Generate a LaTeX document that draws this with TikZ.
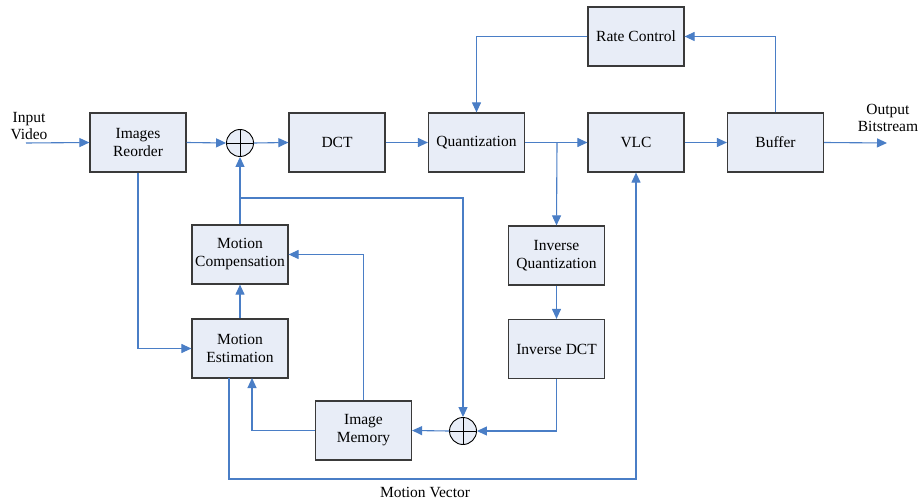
\documentclass[tikz,border=0pt]{standalone}
\usepackage{fontspec}
\setmainfont{Liberation Serif}
\usetikzlibrary{arrows.meta}
\definecolor{lnblue}{HTML}{4A7EC6}
\definecolor{boxfill}{HTML}{E8EDF7}
\definecolor{boxdraw}{HTML}{3A3A3A}
\begin{document}
\begin{tikzpicture}[x=1pt,y=-1pt,
  blk/.style={draw=boxdraw,line width=1.2pt,fill=boxfill,minimum width=96pt,minimum height=59pt,inner sep=0pt,align=center,font=\fontsize{15.5}{18}\selectfont},
  sumc/.style={draw=black,line width=0.9pt,fill=boxfill,circle,minimum size=27pt,inner sep=0pt},
  conn/.style={draw=lnblue,line width=1.1pt,-{Triangle[length=10pt,width=9pt]}},
  lbl/.style={font=\fontsize{15.5}{17}\selectfont,align=center,inner sep=0pt}]
\useasboundingbox (0,0) rectangle (920,502);
% blocks
\node[blk] (ir) at (138,142.5) {Images\\Reorder};
\node[blk] (dct) at (337,142.5) {DCT};
\node[blk] (q) at (476.5,142.5) {Quantization};
\node[blk] (vlc) at (636,142.5) {VLC};
\node[blk] (buf) at (775.5,142.5) {Buffer};
\node[blk] (rc) at (636,36.5) {Rate Control};
\node[blk] (iq) at (556.5,255.5) {Inverse\\Quantization};
\node[blk] (idct) at (556.5,349) {Inverse DCT};
\node[blk] (mc) at (240,254.5) {Motion\\Compensation};
\node[blk] (me) at (240,348.5) {Motion\\Estimation};
\node[blk] (im) at (363.5,430.5) {Image\\Memory};
% adders
\node[sumc] (s1) at (240,143) {};
\draw[line width=0.9pt] (s1.north) -- (s1.south) (s1.west) -- (s1.east);
\node[sumc] (s2) at (463,431) {};
\draw[line width=0.9pt] (s2.north) -- (s2.south) (s2.west) -- (s2.east);
% labels
\node[lbl] (inv) at (29,126) {Input\\Video};
\node[lbl] (outb) at (888,118) {Output\\Bitstream};
\node[lbl] (mv) at (425,492) {Motion Vector};
\coordinate (inS) at (26,143);
\coordinate (outE) at (887,143);
% main chain
\draw[conn] (inS) -- (ir.west);
\draw[conn] (ir.east) -- (s1.west);
\draw[conn] (s1.east) -- (dct.west);
\draw[conn] (dct.east) -- (q.west);
\draw[conn] (q.east) -- (vlc.west);
\draw[conn] (vlc.east) -- (buf.west);
\draw[conn] (buf.east) -- (outE);
% rate control loop
\draw[conn] (buf.north) |- (rc.east);
\draw[conn] (rc.west) -| (q.north);
% inverse path
\draw[conn] (557,143) -- (iq.north);
\draw[conn] (iq.south) -- (idct.north);
\draw[conn] (idct.south) |- (s2.east);
\draw[conn] (s2.west) -- (im.east);
% motion compensation
\draw[conn] (mc.north) -- (s1.south);
\draw[conn] (240,198) -| (s2.north);
\draw[conn] (im.north) |- (mc.east);
\draw[conn] (me.north) -- (mc.south);
\draw[conn] (ir.south) |- (me.west);
\draw[conn] (im.west) -| (252,378);
\draw[conn] (229,378) -- (229,479) -| (vlc.south);
\end{tikzpicture}
\end{document}
